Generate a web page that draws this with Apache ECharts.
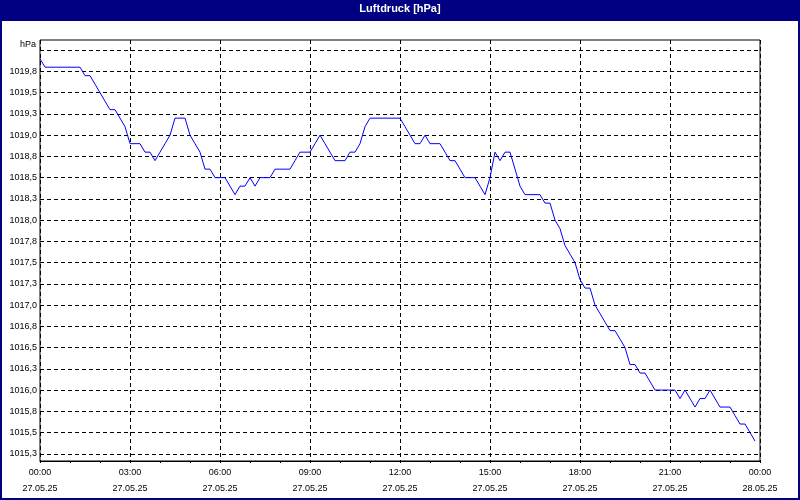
<!DOCTYPE html>
<html><head><meta charset="utf-8">
<script src="https://cdn.jsdelivr.net/npm/echarts@6/dist/echarts.min.js"></script>
<style>html,body{margin:0;padding:0;background:#fff}#c{width:800px;height:500px}</style>
</head><body><div id="c"></div>
<script>
const chartTitle = 'Luftdruck [hPa]';
const unitLabel = 'hPa';
const sampleStepMinutes = 10;
// one row per hour, 10-minute samples (hPa)
const pressure = [
  1019.9, 1019.8, 1019.8, 1019.8, 1019.8, 1019.8,
  1019.8, 1019.8, 1019.8, 1019.7, 1019.7, 1019.6,
  1019.5, 1019.4, 1019.3, 1019.3, 1019.2, 1019.1,
  1018.9, 1018.9, 1018.9, 1018.8, 1018.8, 1018.7,
  1018.8, 1018.9, 1019.0, 1019.2, 1019.2, 1019.2,
  1019.0, 1018.9, 1018.8, 1018.6, 1018.6, 1018.5,
  1018.5, 1018.5, 1018.4, 1018.3, 1018.4, 1018.4,
  1018.5, 1018.4, 1018.5, 1018.5, 1018.5, 1018.6,
  1018.6, 1018.6, 1018.6, 1018.7, 1018.8, 1018.8,
  1018.8, 1018.9, 1019.0, 1018.9, 1018.8, 1018.7,
  1018.7, 1018.7, 1018.8, 1018.8, 1018.9, 1019.1,
  1019.2, 1019.2, 1019.2, 1019.2, 1019.2, 1019.2,
  1019.2, 1019.1, 1019.0, 1018.9, 1018.9, 1019.0,
  1018.9, 1018.9, 1018.9, 1018.8, 1018.7, 1018.7,
  1018.6, 1018.5, 1018.5, 1018.5, 1018.4, 1018.3,
  1018.5, 1018.8, 1018.7, 1018.8, 1018.8, 1018.6,
  1018.4, 1018.3, 1018.3, 1018.3, 1018.3, 1018.2,
  1018.2, 1018.0, 1017.9, 1017.7, 1017.6, 1017.5,
  1017.3, 1017.2, 1017.2, 1017.0, 1016.9, 1016.8,
  1016.7, 1016.7, 1016.6, 1016.5, 1016.3, 1016.3,
  1016.2, 1016.2, 1016.1, 1016.0, 1016.0, 1016.0,
  1016.0, 1016.0, 1015.9, 1016.0, 1015.9, 1015.8,
  1015.9, 1015.9, 1016.0, 1015.9, 1015.8, 1015.8,
  1015.8, 1015.7, 1015.6, 1015.6, 1015.5, 1015.4
];
const xTickMinutes = [0, 180, 360, 540, 720, 900, 1080, 1260, 1440];
const xTickTimes = ['00:00', '03:00', '06:00', '09:00', '12:00', '15:00', '18:00', '21:00', '00:00'];
const xTickDates = ['27.05.25', '27.05.25', '27.05.25', '27.05.25', '27.05.25', '27.05.25', '27.05.25', '27.05.25', '28.05.25'];
const yGridValues = [1015.25, 1015.5, 1015.75, 1016.0, 1016.25, 1016.5, 1016.75, 1017.0, 1017.25, 1017.5,
  1017.75, 1018.0, 1018.25, 1018.5, 1018.75, 1019.0, 1019.25, 1019.5, 1019.75, 1020.0];
const yLabelValues = [1015.25, 1015.5, 1015.75, 1016.0, 1016.25, 1016.5, 1016.75, 1017.0, 1017.25, 1017.5,
  1017.75, 1018.0, 1018.25, 1018.5, 1018.75, 1019.0, 1019.25, 1019.5, 1019.75];

const FONT = '"Liberation Sans", Arial, sans-serif';
const seriesData = pressure.map((v, i) => [i * sampleStepMinutes, v]);
const dash = [4, 3];

const chart = echarts.init(document.getElementById('c'), null, { renderer: 'canvas' });
chart.setOption({
  animation: false,
  backgroundColor: '#ffffff',
  title: {
    text: chartTitle, left: 'center', top: 0, padding: [3, 5, 3, 5], z: 10,
    textStyle: { color: '#ffffff', fontWeight: 'bold', fontSize: 11, fontFamily: FONT }
  },
  graphic: [
    { type: 'rect', z: 1, silent: true, shape: { x: 0, y: 0, width: 800, height: 21 }, style: { fill: '#000080' } },
    { type: 'rect', z: 1, silent: true, shape: { x: 1, y: 1, width: 798, height: 498 }, style: { fill: 'none', stroke: '#000080', lineWidth: 2 } }
  ],
  grid: { left: 40, right: 40, top: 40, bottom: 39, show: true, borderColor: '#000', borderWidth: 1, backgroundColor: 'transparent' },
  xAxis: {
    type: 'value', min: 0, max: 1440, interval: 180,
    axisLine: { show: true, lineStyle: { color: '#000', width: 1 } },
    axisTick: { show: true, length: 2, lineStyle: { color: '#000' } },
    minorTick: { show: true, splitNumber: 3, length: 2, lineStyle: { color: '#000' } },
    splitLine: { show: true, lineStyle: { color: '#000', type: dash, width: 1 } },
    axisLabel: {
      margin: 4, fontSize: 9, lineHeight: 16, color: '#000', fontFamily: FONT,
      showMinLabel: true, showMaxLabel: true,
      formatter: function (v) {
        const i = xTickMinutes.indexOf(Math.round(v));
        return i < 0 ? '' : xTickTimes[i] + '\n' + xTickDates[i];
      }
    }
  },
  yAxis: {
    type: 'value', min: 1015.165, max: 1020.12, scale: true,
    name: unitLabel, nameLocation: 'end', nameGap: -5,
    nameTextStyle: { align: 'right', verticalAlign: 'middle', padding: [0, 4, 0, 0], fontSize: 9, color: '#000', fontFamily: FONT },
    axisLine: { show: false },
    axisTick: { show: false, customValues: yGridValues },
    splitLine: { show: true, lineStyle: { color: '#000', type: dash, width: 1 } },
    axisLabel: {
      customValues: yLabelValues, margin: 3, fontSize: 9, color: '#000', fontFamily: FONT,
      formatter: v => v.toFixed(1).replace('.', ',')
    }
  },
  series: [{
    type: 'line', data: seriesData, showSymbol: false, smooth: false,
    lineStyle: { color: '#0000ff', width: 1 }, itemStyle: { color: '#0000ff' }
  }]
});
</script>
</body></html>
